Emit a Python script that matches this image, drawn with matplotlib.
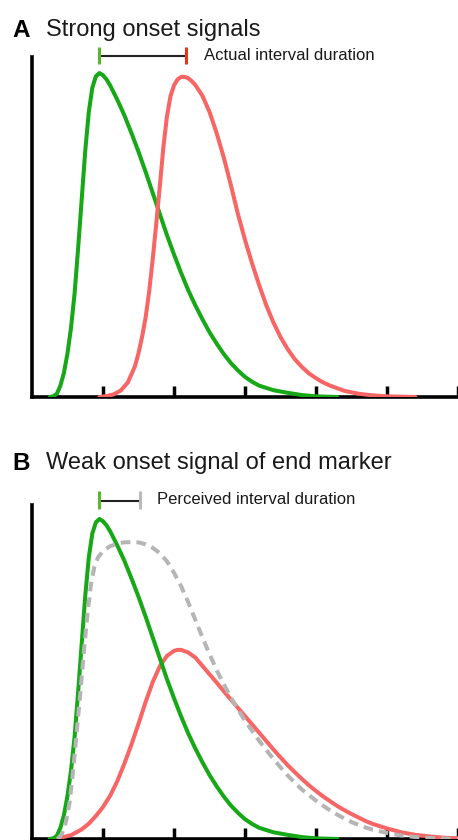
import matplotlib
matplotlib.use("Agg")
import matplotlib.pyplot as plt

plt.rcParams['font.family'] = ['Liberation Sans', 'DejaVu Sans']

# ---------------- data ----------------
tick_positions = [1, 2, 3, 4, 5, 6]

# start-marker response (green), same in both panels
green_x = [0.25, 0.30, 0.35, 0.40, 0.45, 0.50, 0.55, 0.60, 0.65, 0.70, 0.75, 0.80,
           0.85, 0.90, 0.95, 1.00, 1.05, 1.10, 1.20, 1.30, 1.40, 1.50, 1.60, 1.70,
           1.80, 1.90, 2.00, 2.10, 2.20, 2.30, 2.40, 2.50, 2.60, 2.70, 2.80, 2.90,
           3.00, 3.10, 3.20, 3.30, 3.40, 3.60, 3.80, 4.00, 4.30]
green_y = [0.0, 0.002, 0.010, 0.035, 0.075, 0.135, 0.215, 0.320, 0.460, 0.610,
           0.760, 0.880, 0.955, 0.990, 1.000, 0.993, 0.980, 0.962, 0.918, 0.870,
           0.815, 0.757, 0.695, 0.630, 0.565, 0.500, 0.440, 0.383, 0.330, 0.283,
           0.240, 0.200, 0.165, 0.133, 0.105, 0.082, 0.062, 0.047, 0.035, 0.028,
           0.021, 0.013, 0.006, 0.002, 0.0]

# end-marker response, strong onset (red, panel A)
red_a_x = [0.95, 1.05, 1.15, 1.25, 1.35, 1.45, 1.50, 1.55, 1.60, 1.65, 1.70, 1.75,
           1.80, 1.85, 1.90, 1.95, 2.00, 2.05, 2.10, 2.15, 2.20, 2.25, 2.30, 2.40,
           2.50, 2.60, 2.70, 2.80, 2.90, 3.00, 3.10, 3.20, 3.30, 3.40, 3.50, 3.60,
           3.70, 3.80, 3.90, 4.00, 4.10, 4.20, 4.40, 4.60, 4.80, 5.00, 5.40]
red_a_y = [0.0, 0.003, 0.008, 0.020, 0.045, 0.095, 0.135, 0.185, 0.245, 0.325,
           0.425, 0.535, 0.650, 0.770, 0.865, 0.928, 0.962, 0.980, 0.988, 0.988,
           0.984, 0.975, 0.963, 0.930, 0.880, 0.815, 0.740, 0.655, 0.565, 0.485,
           0.412, 0.345, 0.283, 0.230, 0.185, 0.148, 0.117, 0.093, 0.073, 0.058,
           0.045, 0.035, 0.019, 0.010, 0.005, 0.002, 0.0]

# end-marker response, weak onset (red, panel B)
red_b_x = [0.25, 0.40, 0.55, 0.70, 0.80, 0.90, 1.00, 1.10, 1.20, 1.30, 1.40, 1.50,
           1.60, 1.70, 1.80, 1.90, 2.00, 2.05, 2.10, 2.20, 2.30, 2.40, 2.50, 2.60,
           2.70, 2.80, 2.90, 3.00, 3.10, 3.20, 3.30, 3.40, 3.50, 3.60, 3.70, 3.80,
           3.90, 4.00, 4.10, 4.20, 4.30, 4.40, 4.50, 4.60, 4.70, 4.80, 5.00, 5.20,
           5.40, 5.60, 5.80, 6.00]
red_b_y = [0.0, 0.004, 0.012, 0.030, 0.048, 0.072, 0.100, 0.135, 0.180, 0.235,
           0.295, 0.360, 0.428, 0.490, 0.540, 0.572, 0.588, 0.591, 0.591, 0.583,
           0.567, 0.541, 0.515, 0.489, 0.462, 0.436, 0.410, 0.384, 0.358, 0.332,
           0.306, 0.280, 0.255, 0.231, 0.209, 0.188, 0.168, 0.150, 0.133, 0.118,
           0.103, 0.090, 0.078, 0.067, 0.056, 0.047, 0.033, 0.021, 0.013, 0.008,
           0.004, 0.002]

# perceived end (gray dashed, panel B)
gray_b_x = [0.36, 0.42, 0.48, 0.53, 0.58, 0.63, 0.68, 0.73, 0.78, 0.83, 0.88, 0.93,
            1.00, 1.10, 1.20, 1.30, 1.40, 1.50, 1.60, 1.70, 1.80, 1.90, 2.00, 2.10,
            2.20, 2.30, 2.40, 2.50, 2.60, 2.70, 2.80, 2.90, 3.00, 3.10, 3.20, 3.30,
            3.40, 3.50, 3.60, 3.70, 3.80, 3.90, 4.00, 4.10, 4.20, 4.30, 4.40, 4.50,
            4.60, 4.70, 4.80, 5.00, 5.20, 5.40, 5.70, 6.00]
gray_b_y = [0.0, 0.015, 0.055, 0.115, 0.215, 0.335, 0.455, 0.585, 0.700, 0.795,
            0.852, 0.880, 0.900, 0.915, 0.923, 0.927, 0.928, 0.927, 0.921, 0.910,
            0.893, 0.868, 0.832, 0.790, 0.740, 0.685, 0.630, 0.578, 0.528, 0.484,
            0.443, 0.405, 0.370, 0.338, 0.307, 0.278, 0.250, 0.224, 0.199, 0.176,
            0.155, 0.137, 0.120, 0.104, 0.089, 0.076, 0.064, 0.053, 0.044, 0.036,
            0.029, 0.019, 0.011, 0.006, 0.002, 0.0]

# interval markers (x positions in data units)
a_start_x, a_end_x = 0.944, 2.165
b_start_x, b_end_x = 0.944, 1.52

panel_a_title = "Strong onset signals"
panel_b_title = "Weak onset signal of end marker"
panel_a_note = "Actual interval duration"
panel_b_note = "Perceived interval duration"

# ---------------- style ----------------
GREEN = "#17a817"
RED = "#f76565"
GRAY = "#b5b5b5"
MARK_GREEN = "#5cb82a"
MARK_RED = "#e8341f"
MARK_GRAY = "#b9b9b9"
TXT = "#1a1a1a"

W, H = 458, 840
fig = plt.figure(figsize=(W / 100, H / 100), dpi=100)


def make_axes(top_px, bottom_px, ytop):
    ax = fig.add_axes([32 / W, (H - bottom_px) / H, (W - 32) / W, (bottom_px - top_px) / H])
    ax.set_xlim(0, 6)
    ax.set_ylim(0, ytop)
    for s in ("top", "right"):
        ax.spines[s].set_visible(False)
    for s in ("left", "bottom"):
        ax.spines[s].set_linewidth(2.6)
        ax.spines[s].set_color("black")
        ax.spines[s].set_capstyle("projecting")
    ax.set_xticks(tick_positions)
    ax.set_yticks([])
    ax.tick_params(axis="x", direction="in", length=8, width=2.5, color="black",
                   labelbottom=False)
    ax.patch.set_alpha(0)
    return ax


axA = make_axes(57, 397, (397 - 57) / 324)
axB = make_axes(505, 839, (839 - 505) / 320)

lw = 2.9
kw = dict(lw=lw, solid_capstyle="round", solid_joinstyle="round")
axA.plot(green_x, green_y, color=GREEN, zorder=3, **kw)
axA.plot(red_a_x, red_a_y, color=RED, zorder=3, **kw)

axB.plot(red_b_x, red_b_y, color=RED, zorder=3, **kw)
axB.plot(green_x, green_y, color=GREEN, zorder=4, **kw)
axB.plot(gray_b_x, gray_b_y, color=GRAY, lw=lw, zorder=5, dashes=(2.4, 1.5),
         dash_joinstyle="round")


def interval_marker(ax, base, scale, x0, x1, c0, c1, line_py, m_top, m_bot):
    yl = (base - line_py) / scale
    yt = (base - m_top) / scale
    yb = (base - m_bot) / scale
    ax.plot([x0, x1], [yl, yl], color="#222222", lw=1.5, clip_on=False, zorder=5)
    ax.plot([x0, x0], [yb, yt], color=c0, lw=2.2, clip_on=False, zorder=6,
            solid_capstyle="butt")
    ax.plot([x1, x1], [yb, yt], color=c1, lw=2.2, clip_on=False, zorder=6,
            solid_capstyle="butt")


interval_marker(axA, 397, 324, a_start_x, a_end_x, MARK_GREEN, MARK_RED, 56, 47, 64)
interval_marker(axB, 839, 320, b_start_x, b_end_x, MARK_GREEN, MARK_GRAY, 501, 491, 509)

axA.text(2.42, (397 - 56) / 324, panel_a_note, fontsize=12, color=TXT,
         va="center", ha="left", clip_on=False)
axB.text(1.765, (839 - 500) / 320, panel_b_note, fontsize=12, color=TXT,
         va="center", ha="left", clip_on=False)

fig.text(12 / W, (H - 37) / H, "A", fontsize=17.5, fontweight="bold", color="black",
         va="baseline", ha="left")
fig.text(46 / W, (H - 36) / H, panel_a_title, fontsize=17, color=TXT,
         va="baseline", ha="left")
fig.text(12 / W, (H - 470) / H, "B", fontsize=17.5, fontweight="bold", color="black",
         va="baseline", ha="left")
fig.text(46 / W, (H - 469) / H, panel_b_title, fontsize=17, color=TXT,
         va="baseline", ha="left")

fig.savefig("out.png", dpi=100, facecolor="white")
